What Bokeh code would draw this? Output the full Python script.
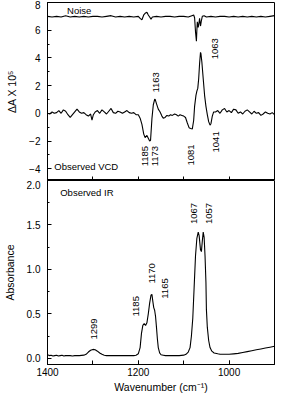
import math
from bokeh.plotting import figure
from bokeh.layouts import column
from bokeh.models import Range1d, SingleIntervalTicker, FixedTicker, PrintfTickFormatter
from bokeh.core.properties import value
from bokeh.embed import file_html
from bokeh.resources import INLINE

# ---------------- data ----------------
# Observed VCD (x 1e5)
vcd_wn = [1400, 1395, 1390, 1385, 1380, 1375, 1370, 1365, 1360, 1355, 1350, 1345, 1340, 1335, 1330,
          1325, 1320, 1315, 1310, 1305, 1302, 1299, 1295, 1290, 1285, 1280, 1275, 1270, 1265, 1260,
          1255, 1250, 1245, 1240, 1235, 1230, 1225, 1220, 1215, 1210, 1205, 1200, 1196, 1192, 1188,
          1185, 1181, 1178, 1175, 1173, 1170, 1167, 1164, 1163, 1160, 1156, 1152, 1148, 1145, 1141,
          1137, 1133, 1129, 1125, 1120, 1116, 1112, 1108, 1104, 1100, 1096, 1092, 1088, 1085, 1081,
          1078, 1076, 1073, 1071, 1069, 1067, 1065, 1063, 1062, 1060, 1057, 1054, 1051, 1048, 1045,
          1042, 1040, 1037, 1034, 1030, 1025, 1020, 1015, 1010, 1005, 1000, 995, 990, 985, 980,
          975, 970, 965, 960, 955, 950, 945, 940, 935, 930, 925, 920, 915, 910, 905, 900]
vcd_val = [0.0, -0.05, 0.1, 0.0, 0.05, 0.2, 0.0, 0.25, 0.15, -0.1, -0.3, -0.1, 0.1, 0.3, 0.1,
           0.0, 0.05, -0.1, -0.2, -0.05, -0.5, -0.1, 0.1, 0.2, 0.0, 0.25, 0.1, -0.05, 0.15, 0.35,
           0.05, 0.0, 0.15, 0.1, 0.0, 0.1, 0.2, 0.05, 0.0, 0.05, -0.1, -0.1, -0.35, -0.8, -1.5,
           -1.75, -1.6, -1.8, -2.0, -1.95, -0.4, 0.6, 1.0, 1.03, 0.7, 0.3, 0.1, -0.2, -0.35, -0.3,
           -0.15, -0.2, -0.1, -0.15, -0.05, -0.1, -0.2, -0.1, -0.15, -0.2, -0.3, -0.7, -1.05, -1.1, -1.12,
           -0.5, 0.5, 1.3, 1.6, 1.8, 2.5, 3.6, 4.4, 4.3, 3.7, 2.5, 1.3, 0.5, -0.1, -0.6,
           -0.85, -0.75, -0.2, 0.1, 0.1, 0.2, 0.0, 0.25, 0.35, 0.1, 0.2, 0.05, 0.3, 0.25, 0.0,
           0.1, -0.05, 0.15, 0.25, 0.1, -0.05, 0.15, 0.0, 0.05, -0.15, -0.05, 0.1, 0.0, -0.05, 0.05, -0.1]

# Noise trace (offset to ~7)
noise_wn = [1400, 1390, 1380, 1370, 1360, 1350, 1340, 1330, 1320, 1310, 1300, 1290, 1280, 1270, 1260,
            1250, 1240, 1230, 1220, 1210, 1200, 1196, 1192, 1188, 1184, 1181, 1178, 1175, 1172, 1169,
            1160, 1150, 1140, 1130, 1120, 1110, 1100, 1090, 1082, 1078, 1076, 1074, 1072, 1071, 1070,
            1068, 1066, 1065, 1063, 1061, 1059, 1055, 1050, 1040, 1030, 1020, 1010, 1000, 990, 980,
            970, 960, 950, 940, 930, 920, 910, 900]
noise_val = [7.0, 6.95, 7.0, 6.95, 7.05, 6.95, 7.0, 6.95, 7.0, 6.95, 7.0, 7.0, 6.95, 7.0, 7.05,
             6.95, 7.0, 6.95, 7.0, 6.95, 7.0, 6.85, 6.75, 7.1, 7.25, 7.3, 7.1, 6.95, 6.8, 6.95,
             7.0, 6.95, 7.0, 7.0, 6.95, 7.0, 7.0, 6.95, 7.05, 7.1, 6.9, 5.9, 5.2, 6.0, 6.6,
             6.2, 6.6, 6.85, 6.3, 6.7, 7.0, 7.05, 6.95, 7.0, 6.95, 7.0, 7.0, 6.95, 7.0, 6.95,
             7.0, 6.95, 7.0, 6.95, 7.0, 6.95, 7.0, 7.05]

# Observed IR absorbance
ir_wn = [1400, 1396, 1392, 1388, 1384, 1380, 1376, 1372, 1368, 1364, 1360, 1355, 1350, 1345, 1340,
         1330, 1320, 1315, 1310, 1305, 1300, 1295, 1290, 1285, 1280, 1275, 1270, 1260, 1250, 1240,
         1230, 1220, 1210, 1205, 1200, 1196, 1193, 1190, 1187, 1184, 1181, 1178, 1175, 1172, 1170,
         1168, 1166, 1164, 1162, 1160, 1158, 1156, 1153, 1150, 1145, 1140, 1130, 1120, 1110, 1100,
         1095, 1090, 1086, 1083, 1080, 1077, 1074, 1071, 1068, 1066, 1063, 1061, 1059, 1057, 1055,
         1053, 1051, 1050, 1048, 1045, 1042, 1038, 1033, 1025, 1020, 1010, 1000, 990, 980, 970,
         960, 950, 940, 930, 920, 910, 900]
ir_val = [0.04, 0.03, 0.035, 0.025, 0.03, 0.035, 0.025, 0.03, 0.035, 0.025, 0.03, 0.03, 0.03, 0.025, 0.03,
          0.03, 0.035, 0.045, 0.07, 0.09, 0.10, 0.095, 0.08, 0.06, 0.045, 0.035, 0.03, 0.03, 0.03, 0.03,
          0.03, 0.03, 0.03, 0.035, 0.05, 0.12, 0.28, 0.37, 0.39, 0.37, 0.40, 0.50, 0.62, 0.71, 0.72,
          0.64, 0.57, 0.54, 0.47, 0.35, 0.22, 0.12, 0.06, 0.04, 0.035, 0.03, 0.03, 0.03, 0.03, 0.035,
          0.045, 0.07, 0.12, 0.25, 0.45, 0.80, 1.15, 1.35, 1.42, 1.38, 1.22, 1.20, 1.32, 1.42, 1.36,
          1.15, 0.85, 0.55, 0.35, 0.20, 0.12, 0.08, 0.06, 0.05, 0.045, 0.045, 0.045, 0.05, 0.055, 0.065,
          0.075, 0.085, 0.095, 0.105, 0.115, 0.125, 0.135]

# peak annotations
vcd_up_text = ["1163", "1063"]
vcd_dn_text = ["1185", "1173", "1081", "1041"]
ir_up_text = ["1299", "1185", "1170", "1165", "1067", "1057"]

# x tick positions
x_ticks = [1400, 1300, 1200, 1100, 1000, 900]

# annotation anchors (layout)
vcd_up_x = [1161, 1031]
vcd_up_y = [1.5, 3.9]
vcd_dn_x = [1185, 1164, 1084, 1028]
vcd_dn_y = [-2.35, -2.35, -2.25, -1.3]
ir_up_x = [1298, 1204, 1169, 1142, 1077, 1044]
ir_up_y = [0.21, 0.47, 0.84, 0.67, 1.51, 1.51]

FONT = "Liberation Sans"
x_range = Range1d(1400, 900)


def style(p, yint):
    p.outline_line_color = "black"
    p.outline_line_width = 1
    p.grid.visible = False
    p.background_fill_color = None
    p.border_fill_color = None
    for ax in (p.xaxis[0], p.yaxis[0]):
        ax.axis_line_color = "black"
        ax.major_tick_in = 4
        ax.major_tick_out = 0
        ax.minor_tick_in = 2
        ax.minor_tick_out = 0
        ax.major_tick_line_color = "black"
        ax.minor_tick_line_color = "black"
        ax.major_label_text_font = FONT
        ax.major_label_text_font_size = "10px"
        ax.major_label_text_color = "black"
        ax.axis_label_text_font = FONT
        ax.axis_label_text_font_size = "10.5px"
        ax.axis_label_text_font_style = "normal"
        ax.axis_label_text_color = "black"
    p.xaxis[0].minor_tick_in = 4
    p.yaxis[0].ticker = SingleIntervalTicker(interval=yint, num_minor_ticks=2)
    p.yaxis[0].major_label_standoff = 7
    p.yaxis[0].axis_label_standoff = 8


# ---------------- top panel: VCD ----------------
p1 = figure(width=276, height=180, x_range=x_range, y_range=Range1d(-4.85, 8.0),
            output_backend="svg", toolbar_location=None,
            min_border_left=44, min_border_right=2, min_border_top=2, min_border_bottom=0)
style(p1, 2)
# ticks only (no labels) along the shared boundary
p1.xaxis[0].ticker = FixedTicker(ticks=[], minor_ticks=x_ticks)
p1.xaxis.major_label_standoff = 0
p1.yaxis.axis_label = "ΔA X 10⁵"
p1.line(noise_wn, noise_val, line_color="black", line_width=1.1)
p1.line(vcd_wn, vcd_val, line_color="black", line_width=1.1)
p1.text(x=[1357], y=[7.45], text=["Noise"], text_font=value(FONT), text_font_size="9.5px",
        text_baseline="middle", text_align="left", text_color="black")
p1.text(x=[1385], y=[-3.85], text=["Observed VCD"], text_font=value(FONT), text_font_size="9.5px",
        text_baseline="middle", text_align="left", text_color="black")
p1.text(x=vcd_up_x, y=vcd_up_y, text=vcd_up_text, angle=math.pi / 2, text_font=value(FONT),
        text_font_size="9.5px", text_baseline="middle", text_align="left", text_color="black")
p1.text(x=vcd_dn_x, y=vcd_dn_y, text=vcd_dn_text, angle=math.pi / 2, text_font=value(FONT),
        text_font_size="9.5px", text_baseline="middle", text_align="right", text_color="black")

# ---------------- bottom panel: IR ----------------
p2 = figure(width=276, height=215, x_range=x_range, y_range=Range1d(-0.07, 2.0),
            output_backend="svg", toolbar_location=None,
            min_border_left=44, min_border_right=2, min_border_top=0, min_border_bottom=30)
style(p2, 0.5)
p2.xaxis[0].ticker = SingleIntervalTicker(interval=200, num_minor_ticks=2)
p2.xaxis.axis_label = "Wavenumber (cm⁻¹)"
p2.xaxis.major_label_standoff = 3
p2.xaxis.axis_label_standoff = 2
p2.yaxis.axis_label = "Absorbance"
p2.yaxis.formatter = PrintfTickFormatter(format="%.1f")
p2.line(ir_wn, ir_val, line_color="black", line_width=1.1)
p2.text(x=[1372], y=[1.86], text=["Observed IR"], text_font=value(FONT), text_font_size="9.5px",
        text_baseline="middle", text_align="left", text_color="black")
p2.text(x=ir_up_x, y=ir_up_y, text=ir_up_text, angle=math.pi / 2, text_font=value(FONT),
        text_font_size="9.5px", text_baseline="middle", text_align="left", text_color="black")

layout = column(p1, p2, spacing=0)
open("out.html", "w").write(file_html(layout, INLINE))
